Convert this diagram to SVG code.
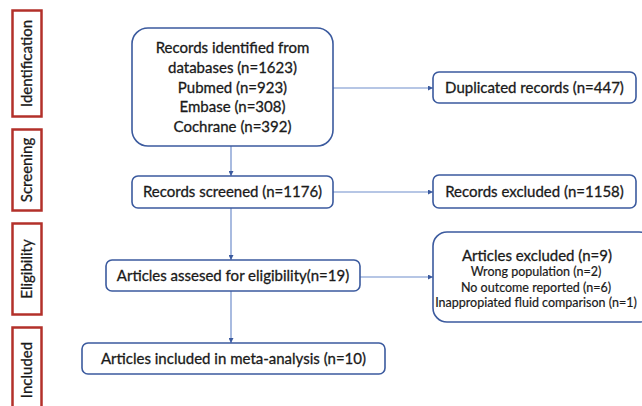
<svg xmlns="http://www.w3.org/2000/svg" width="642" height="406" viewBox="0 0 642 406">
  <style>
    .stage { fill: #ffffff; stroke: #b3302a; stroke-width: 2.5; }
    .stage-label { font-family: Lato, "Open Sans", sans-serif; font-size: 15px; fill: #1a1a1a; stroke: #1a1a1a; stroke-width: 0.3; text-anchor: middle; }
    .box { fill: #ffffff; stroke: #3b5a9e; stroke-width: 1.6; }
    .t { font-family: Lato, "Open Sans", sans-serif; font-size: 15px; fill: #1a1a1a; stroke: #1a1a1a; stroke-width: 0.3; text-anchor: middle; }
    .s { font-family: Lato, "Open Sans", sans-serif; font-size: 12.5px; fill: #1a1a1a; stroke: #1a1a1a; stroke-width: 0.2; text-anchor: middle; }
    .link { fill: none; stroke: #6f8ecb; stroke-width: 1.2; marker-end: url(#head); }
  </style>
  <defs>
    <marker id="head" viewBox="0 0 6 6" refX="6" refY="3" markerWidth="5" markerHeight="5" markerUnits="userSpaceOnUse" orient="auto">
      <path d="M0,0 L6,3 L0,6 Z" fill="#3b5a9e"/>
    </marker>
  </defs>
  <rect width="642" height="406" fill="#ffffff"/>

  <!-- stage labels -->
  <g id="stage-identification">
    <rect class="stage" x="12.5" y="10.5" width="29" height="106"/>
    <text class="stage-label" transform="translate(32,63.5) rotate(-90)">Identification</text>
  </g>
  <g id="stage-screening">
    <rect class="stage" x="12.5" y="129.5" width="29" height="81"/>
    <text class="stage-label" transform="translate(32,170) rotate(-90)">Screening</text>
  </g>
  <g id="stage-eligibility">
    <rect class="stage" x="12.5" y="223.5" width="29" height="91"/>
    <text class="stage-label" transform="translate(32,269) rotate(-90)">Eligibility</text>
  </g>
  <g id="stage-included">
    <rect class="stage" x="12.5" y="327.5" width="29" height="90"/>
    <text class="stage-label" transform="translate(32,370) rotate(-90)">Included</text>
  </g>

  <!-- connectors -->
  <g id="connectors">
    <path class="link" d="M231,146 V176"/>
    <path class="link" d="M333,88 H433"/>
    <path class="link" d="M333,192 H433"/>
    <path class="link" d="M231,208 V260"/>
    <path class="link" d="M360,277 H433"/>
    <path class="link" d="M231,291 V343"/>
  </g>

  <!-- flow boxes -->
  <g id="records-identified">
    <rect class="box" x="132" y="28" width="201" height="118" rx="16"/>
    <text class="t" x="232.5" y="53">Records identified from</text>
    <text class="t" x="232.5" y="73">databases (n=1623)</text>
    <text class="t" x="232.5" y="92.5">Pubmed (n=923)</text>
    <text class="t" x="232.5" y="112">Embase (n=308)</text>
    <text class="t" x="232.5" y="132">Cochrane (n=392)</text>
  </g>
  <g id="duplicated-records">
    <rect class="box" x="433" y="72" width="203" height="31" rx="6"/>
    <text class="t" x="534.5" y="93">Duplicated records (n=447)</text>
  </g>
  <g id="records-screened">
    <rect class="box" x="132" y="176" width="201" height="32" rx="6"/>
    <text class="t" x="232.5" y="197">Records screened (n=1176)</text>
  </g>
  <g id="records-excluded">
    <rect class="box" x="433" y="175" width="203" height="33" rx="6"/>
    <text class="t" x="534.5" y="197">Records excluded (n=1158)</text>
  </g>
  <g id="articles-assessed">
    <rect class="box" x="106" y="260" width="254" height="31" rx="6"/>
    <text class="t" x="233" y="281">Articles assesed for eligibility(n=19)</text>
  </g>
  <g id="articles-excluded">
    <rect class="box" x="433" y="232" width="220" height="90" rx="14"/>
    <text class="t" x="537" y="261">Articles excluded (n=9)</text>
    <text class="s" x="536" y="276">Wrong population (n=2)</text>
    <text class="s" x="536" y="292">No outcome reported (n=6)</text>
    <text class="s" x="536" y="307">Inappropiated fluid comparison (n=1)</text>
  </g>
  <g id="articles-included">
    <rect class="box" x="82" y="343" width="303" height="31" rx="6"/>
    <text class="t" x="233.5" y="364">Articles included in meta-analysis (n=10)</text>
  </g>
</svg>
